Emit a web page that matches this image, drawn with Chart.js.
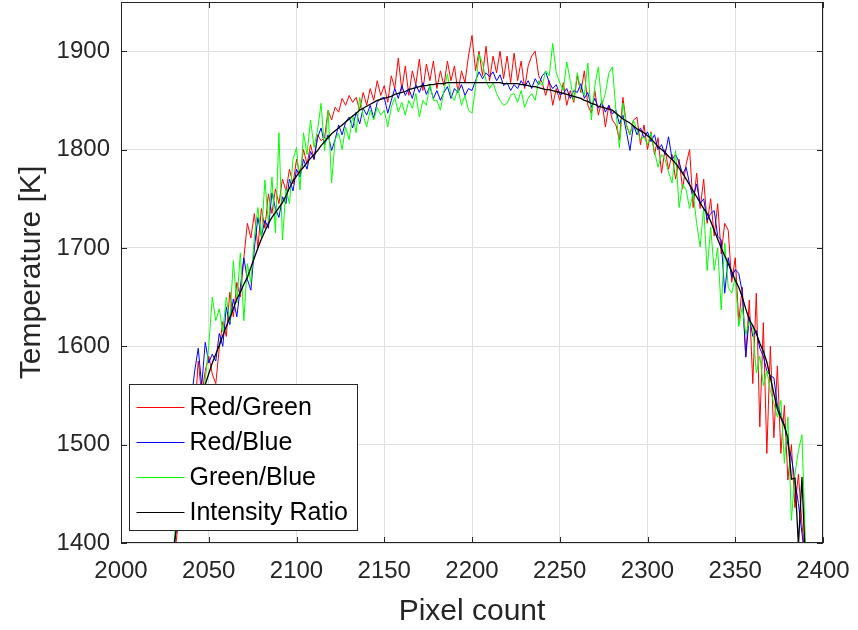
<!DOCTYPE html>
<html>
<head>
<meta charset="utf-8">
<script src="https://cdn.jsdelivr.net/npm/chart.js@4.4.1/dist/chart.umd.min.js"></script>
<style>
  html, body { margin: 0; padding: 0; background: #fff; }
  #wrap { width: 858px; height: 630px; }
</style>
</head>
<body>
<div id="wrap"><canvas id="temps" width="858" height="630"></canvas></div>
<script>
// pixel positions: 2030, 2032, ... 2390
const pixelStart = 2030;
const pixelStep = 2;

const redGreen = [
  1380,1410,1450,1440,1500,1485,1530,1585,1550,1575,
  1590,1572,1562,1598,1625,1610,1655,1630,1665,1650,
  1690,1725,1710,1735,1700,1740,1720,1755,1735,1760,
  1745,1770,1758,1780,1765,1790,1775,1800,1785,1805,
  1790,1815,1809,1812,1840,1830,1843,1838,1852,1845,
  1855,1848,1853,1840,1858,1845,1862,1850,1870,1855,
  1865,1848,1875,1862,1893,1860,1885,1855,1880,1866,
  1892,1860,1887,1870,1890,1862,1880,1865,1890,1870,
  1885,1858,1880,1868,1895,1916,1880,1900,1875,1905,
  1870,1895,1878,1900,1872,1895,1868,1898,1870,1890,
  1862,1885,1895,1900,1875,1868,1855,1870,1845,1862,
  1850,1868,1845,1860,1848,1875,1858,1880,1845,1837,
  1860,1835,1850,1823,1845,1830,1825,1810,1853,1825,
  1815,1830,1833,1805,1825,1800,1818,1795,1812,1776,
  1800,1780,1795,1770,1790,1760,1785,1800,1741,1776,
  1740,1770,1725,1750,1712,1745,1694,1725,1718,1665,
  1690,1625,1660,1589,1647,1562,1654,1518,1624,1491,
  1600,1507,1580,1491,1540,1464,1500,1436,1470,1420,
  1380
];

const redBlue = [
  1390,1425,1460,1480,1520,1545,1575,1598,1560,1604,
  1583,1592,1585,1613,1600,1640,1622,1648,1630,1660,
  1690,1668,1657,1700,1731,1712,1728,1720,1756,1740,
  1731,1752,1745,1770,1758,1780,1772,1790,1780,1798,
  1790,1812,1822,1805,1815,1799,1810,1825,1815,1828,
  1833,1822,1838,1826,1842,1835,1845,1832,1848,1852,
  1853,1837,1850,1862,1852,1865,1855,1862,1852,1866,
  1858,1868,1856,1864,1852,1860,1850,1858,1864,1852,
  1862,1858,1866,1855,1862,1860,1870,1879,1872,1878,
  1874,1879,1870,1876,1865,1868,1860,1866,1862,1870,
  1864,1870,1862,1872,1866,1875,1879,1868,1862,1866,
  1856,1857,1862,1852,1860,1858,1867,1852,1858,1843,
  1852,1842,1848,1838,1845,1836,1840,1826,1835,1818,
  1799,1825,1815,1822,1812,1818,1808,1815,1800,1805,
  1795,1813,1790,1795,1787,1775,1782,1765,1751,1765,
  1745,1750,1728,1735,1738,1712,1708,1654,1690,1670,
  1678,1674,1655,1589,1630,1610,1616,1598,1590,1575,
  1570,1568,1540,1530,1520,1500,1487,1464,1440,1410,
  1380
];

const greenBlue = [
  1395,1440,1470,1455,1500,1525,1505,1550,1535,1565,
  1600,1650,1626,1638,1615,1650,1625,1687,1644,1695,
  1626,1684,1665,1711,1741,1710,1769,1725,1772,1715,
  1817,1708,1760,1745,1790,1802,1759,1817,1795,1830,
  1802,1820,1847,1799,1840,1766,1810,1817,1800,1823,
  1810,1835,1817,1853,1835,1823,1840,1830,1843,1835,
  1840,1823,1843,1853,1838,1848,1835,1850,1842,1857,
  1833,1850,1845,1867,1850,1850,1840,1860,1877,1855,
  1850,1862,1845,1855,1840,1837,1863,1897,1888,1870,
  1862,1868,1857,1850,1845,1847,1855,1857,1848,1860,
  1843,1852,1857,1850,1870,1865,1880,1875,1908,1878,
  1868,1860,1889,1870,1850,1878,1860,1855,1888,1830,
  1865,1884,1845,1857,1878,1884,1840,1802,1847,1825,
  1815,1830,1820,1810,1813,1805,1817,1798,1782,1795,
  1790,1777,1766,1799,1741,1765,1759,1740,1756,1725,
  1701,1741,1677,1721,1677,1700,1637,1705,1660,1654,
  1670,1620,1640,1612,1625,1620,1573,1590,1560,1575,
  1555,1542,1528,1545,1481,1528,1423,1470,1494,1510,
  1400
];

const intensityRatio = [
  1395,1420,1445,1468,1490,1508,1524,1538,1550,1561,
  1572,1583,1592,1601,1611,1620,1629,1638,1648,1655,
  1663,1670,1680,1690,1700,1709,1717,1725,1731,1736,
  1741,1746,1753,1761,1768,1773,1778,1782,1787,1791,
  1795,1799,1804,1808,1812,1816,1819,1822,1825,1828,
  1831,1834,1837,1840,1842,1844,1846,1848,1850,1851,
  1852,1853,1854,1856,1857,1858,1859,1861,1862,1863,
  1864,1865,1865,1866,1866,1867,1867,1867,1868,1868,
  1868,1868,1868,1868,1868,1868,1868,1868,1868,1868,
  1868,1868,1868,1868,1867,1867,1867,1867,1867,1866,
  1866,1865,1864,1864,1863,1862,1861,1861,1860,1859,
  1858,1857,1856,1855,1854,1853,1852,1850,1849,1847,
  1846,1844,1843,1842,1841,1840,1837,1834,1831,1829,
  1827,1824,1821,1819,1817,1814,1811,1807,1803,1800,
  1797,1793,1790,1786,1781,1776,1770,1764,1758,1752,
  1746,1740,1735,1727,1718,1709,1700,1692,1684,1676,
  1667,1660,1650,1638,1627,1621,1613,1603,1595,1584,
  1568,1552,1536,1527,1519,1507,1465,1466,1398,1467,
  1380
];

const xTicks = [2000, 2050, 2100, 2150, 2200, 2250, 2300, 2350, 2400];
const yTicks = [1400, 1500, 1600, 1700, 1800, 1900];

const family = '"Liberation Sans", Arial, Helvetica, sans-serif';
const axisColor = '#262626';

const pixels = redGreen.map((v, i) => pixelStart + i * pixelStep);
const toPoints = vals => vals.map((v, i) => ({ x: pixels[i], y: v }));

// box round the axes, inward tick marks and the legend in the lower left
const framePlugin = {
  id: 'frame',
  afterDatasetsDraw(chart) {
    const { ctx, chartArea: a, scales: { x, y } } = chart;
    ctx.save();
    ctx.strokeStyle = axisColor;
    ctx.lineWidth = 1;
    ctx.beginPath();
    x.ticks.forEach(t => {
      const px = Math.round(x.getPixelForValue(t.value)) + 0.5;
      ctx.moveTo(px, a.bottom); ctx.lineTo(px, a.bottom - 6);
      ctx.moveTo(px, a.top); ctx.lineTo(px, a.top + 6);
    });
    y.ticks.forEach(t => {
      const py = Math.round(y.getPixelForValue(t.value)) + 0.5;
      ctx.moveTo(a.left, py); ctx.lineTo(a.left + 6, py);
      ctx.moveTo(a.right, py); ctx.lineTo(a.right - 6, py);
    });
    ctx.stroke();
    ctx.strokeRect(Math.round(a.left) + 0.5, Math.round(a.top) + 0.5,
      Math.round(a.right - a.left) - 1, Math.round(a.bottom - a.top) - 1);

    // legend
    const bx = Math.round(a.left) + 8.5, bw = 228, bh = 146;
    const by = Math.round(a.bottom) - 12.5 - bh;
    ctx.fillStyle = '#fff';
    ctx.fillRect(bx, by, bw, bh);
    ctx.strokeRect(bx, by, bw, bh);
    ctx.font = '25px ' + family;
    ctx.textBaseline = 'middle';
    chart.data.datasets.forEach((ds, i) => {
      const ry = Math.round(by + 22 + i * 35) + 0.5;
      ctx.strokeStyle = ds.borderColor;
      ctx.beginPath();
      ctx.moveTo(bx + 7, ry); ctx.lineTo(bx + 55, ry);
      ctx.stroke();
      ctx.fillStyle = '#000';
      ctx.fillText(ds.label, bx + 60, ry + 1);
    });
    ctx.restore();
  }
};

new Chart(document.getElementById('temps'), {
  type: 'line',
  data: {
    datasets: [
      { label: 'Red/Green', data: toPoints(redGreen), borderColor: '#ff0000', order: 3 },
      { label: 'Red/Blue', data: toPoints(redBlue), borderColor: '#0000ff', order: 2 },
      { label: 'Green/Blue', data: toPoints(greenBlue), borderColor: '#00ff00', order: 1 },
      { label: 'Intensity Ratio', data: toPoints(intensityRatio), borderColor: '#000000', order: 0, borderWidth: 1.3 }
    ]
  },
  options: {
    responsive: false,
    animation: false,
    devicePixelRatio: 1,
    elements: { point: { radius: 0 }, line: { borderWidth: 1, tension: 0 } },
    layout: { padding: { top: 2, right: 35, left: 0, bottom: 0 } },
    plugins: { legend: { display: false }, tooltip: { enabled: false } },
    scales: {
      x: {
        type: 'linear', min: 2000, max: 2400,
        afterBuildTicks: s => { s.ticks = xTicks.map(v => ({ value: v })); },
        afterFit: s => { s.height = 87; s.paddingLeft = 0; s.paddingRight = 0; },
        grid: { color: '#dfdfdf', drawTicks: false },
        border: { display: false },
        ticks: { color: axisColor, font: { family, size: 24 }, padding: 14, maxRotation: 0, autoSkip: false, callback: v => String(v) },
        title: { display: true, text: 'Pixel count', color: axisColor, font: { family, size: 30 }, padding: { top: 0, bottom: 0 } }
      },
      y: {
        min: 1400, max: 1950,
        afterBuildTicks: s => { s.ticks = yTicks.map(v => ({ value: v })); },
        afterFit: s => { s.width = 121; s.paddingTop = 0; s.paddingBottom = 0; },
        grid: { color: '#dfdfdf', drawTicks: false },
        border: { display: false },
        ticks: { color: axisColor, font: { family, size: 24 }, padding: 11, callback: v => String(v) },
        title: { display: true, text: 'Temperature [K]', color: axisColor, font: { family, size: 30 }, padding: { top: 14, bottom: 0 } }
      }
    }
  },
  plugins: [framePlugin]
});
</script>
</body>
</html>
